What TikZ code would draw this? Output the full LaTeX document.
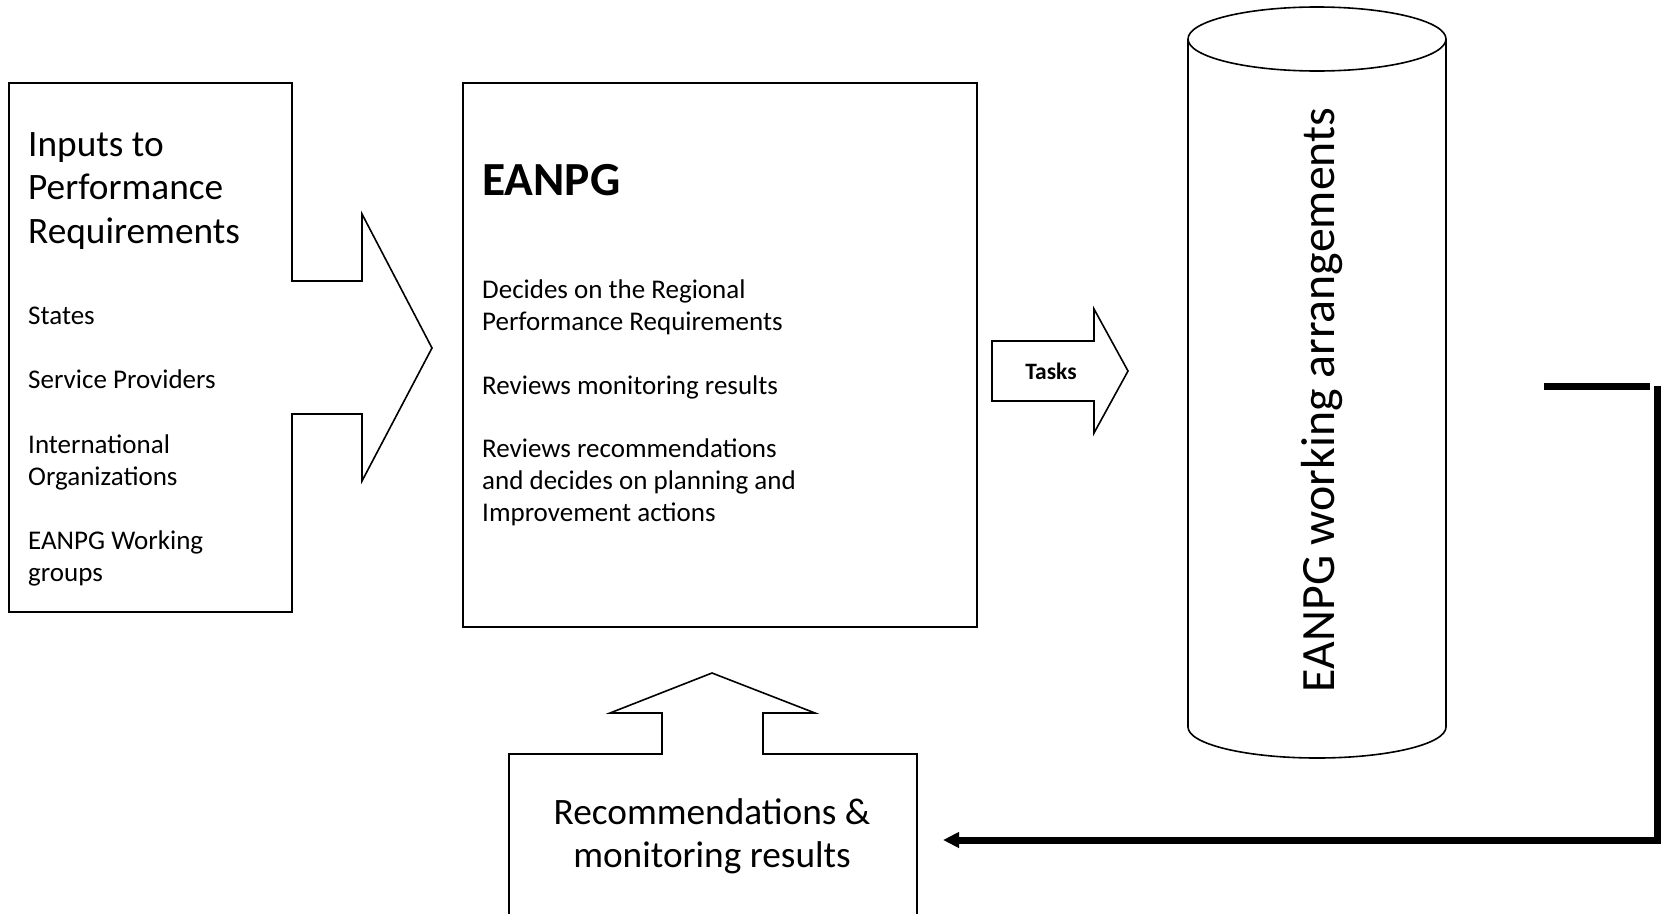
\documentclass[tikz,border=0pt]{standalone}
\usepackage{fontspec}
\setmainfont{Carlito}
\usetikzlibrary{arrows.meta}
\begin{document}
\begin{tikzpicture}[x=1pt,y=-1pt,
  outline/.style={draw=black,line width=1.6pt,line join=miter},
  smalltxt/.style={anchor=base west,inner sep=0pt,font=\fontsize{27}{32}\selectfont},
  bigtxt/.style={anchor=base west,inner sep=0pt,font=\fontsize{37.3}{44}\selectfont},
  fatline/.style={draw=black,line width=7pt,line join=miter},
]
\useasboundingbox (0,0) rectangle (1662,913);

% left box merged with block arrow
\draw[outline] (292,281) -- (362,281) -- (362,214) -- (432,348) -- (362,481) -- (362,414)
  -- (292,414) -- (292,612) -- (9,612) -- (9,83) -- (292,83) -- cycle;
\node[bigtxt] (in1) at (28,156) {Inputs to};
\node[bigtxt] (in2) at (28,199) {Performance};
\node[bigtxt] (in3) at (28,243) {Requirements};
\node[smalltxt] (st) at (28,324) {States};
\node[smalltxt] (sp) at (28,388) {Service Providers};
\node[smalltxt] (io1) at (28,453) {International};
\node[smalltxt] (io2) at (28,485) {Organizations};
\node[smalltxt] (wg1) at (28,549) {EANPG Working};
\node[smalltxt] (wg2) at (28,581) {groups};

% EANPG box
\draw[outline] (463,83) rectangle (977,627);
\node[anchor=base west,inner sep=0pt,font=\bfseries\fontsize{47.5}{56}\selectfont] (eanpg) at (482,195) {EANPG};
\node[smalltxt] (d1) at (482,298) {Decides on the Regional};
\node[smalltxt] (d2) at (482,330) {Performance Requirements};
\node[smalltxt] (d3) at (482,394) {Reviews monitoring results};
\node[smalltxt] (d4) at (482,457) {Reviews recommendations};
\node[smalltxt] (d5) at (482,489) {and decides on planning and};
\node[smalltxt] (d6) at (482,521) {Improvement actions};

% Tasks arrow
\draw[outline] (992,341) -- (1094,341) -- (1094,309) -- (1128,371) -- (1094,433) -- (1094,401) -- (992,401) -- cycle;
\node[inner sep=0pt,font=\bfseries\fontsize{23.5}{28}\selectfont] (tasks) at (1051,371) {Tasks};

% cylinder
\draw[outline] (1188,39) -- (1188,727)
  .. controls (1188,744.1) and (1245.8,758) .. (1317,758)
  .. controls (1388.2,758) and (1446,744.1) .. (1446,727) -- (1446,39);
\draw[outline] (1317,39) ellipse [x radius=129, y radius=32];
\node[anchor=base,inner sep=0pt,rotate=90,font=\fontsize{47.8}{56}\selectfont] (wa) at (1334,400) {EANPG working arrangements};

% recommendations box with up arrow
\draw[outline] (509,916) -- (509,754) -- (662,754) -- (662,713) -- (610,713) -- (712,673)
  -- (815,713) -- (763,713) -- (763,754) -- (917,754) -- (917,916);
\node[anchor=base,inner sep=0pt,font=\fontsize{37.3}{44}\selectfont] (rec1) at (712,824) {Recommendations \&};
\node[anchor=base,inner sep=0pt,font=\fontsize{37.3}{44}\selectfont] (rec2) at (712,867) {monitoring results};

% feedback connector
\coordinate (fbstart) at (1544,386);
\coordinate (fbend) at (1650,386);
\coordinate (vtop) at (1657,386);
\coordinate (vbot) at (1657,840);
\coordinate (recin) at (943,840);
\draw[fatline] (fbstart) -- (fbend);
\draw[fatline,-{Triangle[length=16pt,width=15pt]}] (vtop) -- (vbot) -- (recin);
\end{tikzpicture}
\end{document}
